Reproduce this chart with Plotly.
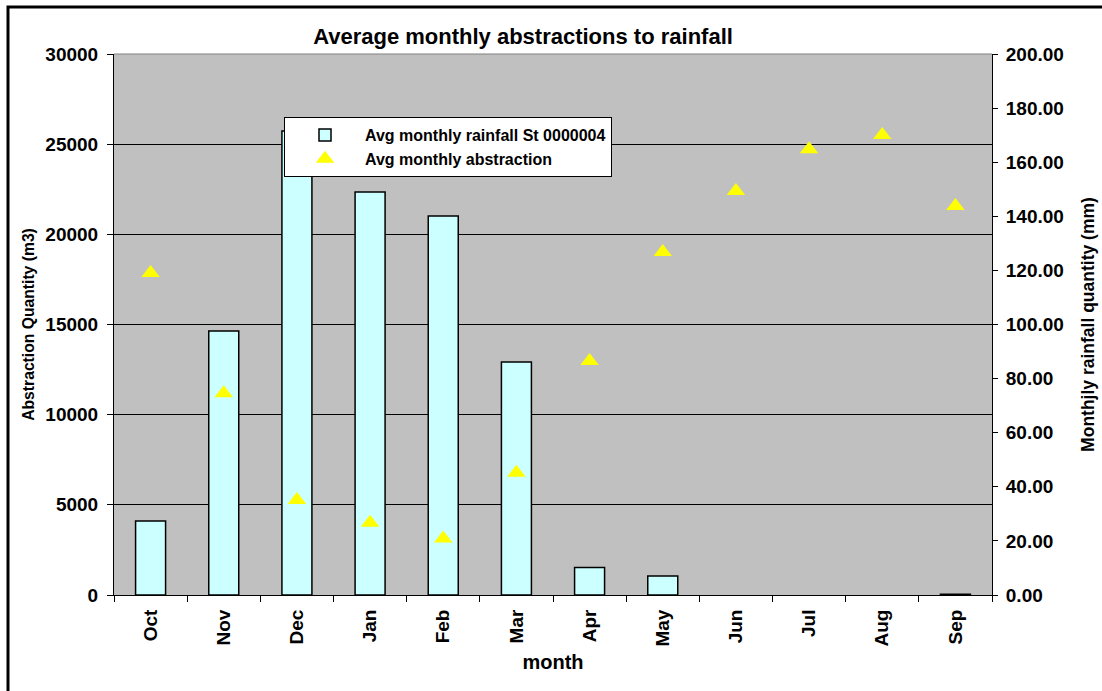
import plotly.graph_objects as go

months = ["Oct", "Nov", "Dec", "Jan", "Feb", "Mar", "Apr", "May", "Jun", "Jul", "Aug", "Sep"]
# no rainfall recorded for Jun-Aug
rainfall_mm = [27.4, 97.6, 171.5, 149.0, 140.1, 86.1, 10.2, 7.0, None, None, None, 0.3]
abstraction_m3 = [17850, 11190, 5270, 4010, 3140, 6780, 12980, 19020, 22400, 24720, 25510, 21570]

left_ticks = [0, 5000, 10000, 15000, 20000, 25000, 30000]
right_ticks = [0, 20, 40, 60, 80, 100, 120, 140, 160, 180, 200]

W, H = 1102, 691
L, R, T, B = 114, 110, 54, 96
PW, PH = W - L - R, H - T - B

def px(x):
    return (x - L) / PW

def py(y):
    return (H - B - y) / PH

FONT = "Arial, Liberation Sans, Helvetica, sans-serif"

fig = go.Figure()

# rainfall bars on the right-hand axis (y), drawn first
fig.add_trace(go.Bar(
    x=months, y=rainfall_mm, name="Avg monthly rainfall St 0000004",
    marker=dict(color="#CCFFFF", line=dict(color="black", width=1.5)),
    yaxis="y", width=0.41,
))
# abstraction markers on the left-hand axis (y2), drawn on top
fig.add_trace(go.Scatter(
    x=months, y=abstraction_m3, name="Avg monthly abstraction",
    mode="markers", marker=dict(symbol="triangle-up", size=16, color="#FFFF00",
                                line=dict(width=0)),
    yaxis="y2",
))

fig.update_layout(
    width=W, height=H,
    margin=dict(l=L, r=R, t=T, b=B, autoexpand=False),
    paper_bgcolor="white", plot_bgcolor="#C0C0C0",
    font=dict(family=FONT, color="black", size=19),
    showlegend=True,
    legend=dict(
        x=px(284), y=py(117), xanchor="left", yanchor="top",
        bgcolor="white", bordercolor="black", borderwidth=1,
        font=dict(family=FONT, size=16, weight="bold"),
        traceorder="normal", itemwidth=70, tracegroupgap=0,
    ),
    xaxis=dict(
        type="category", categoryorder="array", categoryarray=months,
        range=[-0.5, 11.5], automargin=False,
        tickangle=-90, tickson="boundaries", ticks="outside", ticklen=6,
        tickcolor="black", showline=True, linecolor="black", linewidth=1,
        showgrid=False, zeroline=False, ticklabelstandoff=6,
        tickfont=dict(family=FONT, size=19, weight="bold"),
        title=dict(text="month", font=dict(family=FONT, size=20, weight="bold"), standoff=9),
    ),
    yaxis=dict(
        side="right", range=[0, 200], tickvals=right_ticks, tickformat=".2f",
        automargin=False,
        ticks="outside", ticklen=5, tickcolor="black",
        showline=True, linecolor="black", linewidth=1,
        showgrid=False, zeroline=False, ticklabelstandoff=4,
        tickfont=dict(family=FONT, size=19, weight="bold"),
        title=dict(text="Monthjly rainfall quantity (mm)",
                   font=dict(family=FONT, size=17.5, weight="bold"), standoff=18),
    ),
    yaxis2=dict(
        side="left", overlaying="y", range=[0, 30000], tickvals=left_ticks,
        automargin=False,
        tickformat="d", ticks="outside", ticklen=6, tickcolor="black",
        showline=True, linecolor="black", linewidth=1,
        showgrid=True, gridcolor="black", gridwidth=1, zeroline=False,
        ticklabelstandoff=5,
        tickfont=dict(family=FONT, size=19, weight="bold"),
        title=dict(text="Abstraction Quantity (m3)",
                   font=dict(family=FONT, size=15.7, weight="bold"), standoff=6),
    ),
    title=dict(
        text="Average monthly abstractions to rainfall",
        x=px(523), xref="paper", xanchor="center",
        y=1 - 36 / H, yanchor="middle",
        font=dict(family=FONT, size=22, weight="bold"),
    ),
    shapes=[
        # outer chart frame
        dict(type="rect", xref="paper", yref="paper",
             x0=px(8), x1=px(1112), y0=py(700), y1=py(7),
             line=dict(color="black", width=3), fillcolor="rgba(0,0,0,0)", layer="above"),
        # top edge of the plot area
        dict(type="line", xref="paper", yref="paper", x0=0, x1=1, y0=1, y1=1,
             line=dict(color="#808080", width=1)),
    ],
)

fig.write_html("out.html")
